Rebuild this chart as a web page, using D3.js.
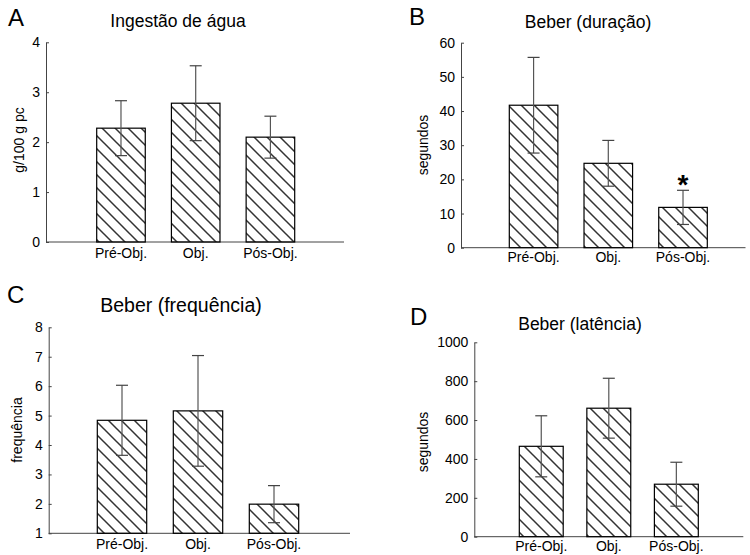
<!DOCTYPE html>
<html>
<head>
<meta charset="utf-8">
<script src="https://cdn.jsdelivr.net/npm/d3@7"></script>
<style>
  body { margin: 0; background: #fff; }
  svg { font-family: "Liberation Sans", Arial, sans-serif; }
  .tick text { fill: #000; }
</style>
</head>
<body>
<svg width="750" height="555"></svg>
<script>
const categories = ["Pré-Obj.", "Obj.", "Pós-Obj."];

const ingestaoMean = [2.28, 2.78, 2.1];
const ingestaoErr = [0.55, 0.75, 0.42];

const duracaoMean = [41.7, 24.7, 11.8];
const duracaoErr = [14.0, 6.7, 5.0];

const frequenciaMean = [4.84, 5.16, 1.99];
const frequenciaErr = [1.19, 1.88, 0.63];

const latenciaMean = [465, 661, 270];
const latenciaErr = [157, 154, 113];

const svg = d3.select("svg");

// diagonal hatch
svg.append("defs")
  .append("pattern")
  .attr("id", "hatch")
  .attr("patternUnits", "userSpaceOnUse")
  .attr("width", 13)
  .attr("height", 13)
  .append("path")
  .attr("d", "M-3.25,9.75 L3.25,16.25 M0,0 L13,13 M9.75,-3.25 L16.25,3.25")
  .attr("stroke", "#333")
  .attr("stroke-width", 1.5);

function panel(p) {
  const g = svg.append("g");

  const y = d3.scaleLinear().domain(p.domain).range([p.yBot, p.yTop]);
  const x = d3.scaleBand()
    .domain(categories)
    .range([p.barL, p.barR])
    .paddingInner(0.35)
    .paddingOuter(0);

  const axis = d3.axisLeft(y)
    .tickValues(p.ticks)
    .tickFormat(d3.format("d"))
    .tickSize(-3)
    .tickSizeOuter(0)
    .tickPadding(6);

  const ax = g.append("g")
    .attr("transform", "translate(" + p.x0 + ",0)")
    .call(axis);
  ax.selectAll("path, line").attr("stroke", "#444");
  ax.selectAll("text")
    .attr("font-size", 14)
    .attr("font-family", "Liberation Sans, Arial, sans-serif");

  // x baseline
  g.append("line")
    .attr("x1", p.x0)
    .attr("x2", p.xEnd)
    .attr("y1", p.yBot)
    .attr("y2", p.yBot)
    .attr("stroke", "#444");

  const bars = g.selectAll(".bar")
    .data(p.mean)
    .enter()
    .append("g");

  bars.append("rect")
    .attr("x", (d, i) => x(categories[i]))
    .attr("y", d => y(d))
    .attr("width", x.bandwidth())
    .attr("height", d => p.yBot - y(d))
    .attr("fill", "url(#hatch)")
    .attr("stroke", "#000")
    .attr("stroke-width", 1.2);

  const cx = (i) => x(categories[i]) + x.bandwidth() / 2;

  bars.append("line")
    .attr("x1", (d, i) => cx(i))
    .attr("x2", (d, i) => cx(i))
    .attr("y1", (d, i) => y(d + p.err[i]))
    .attr("y2", (d, i) => y(d - p.err[i]))
    .attr("stroke", "#555")
    .attr("stroke-width", 1.2);

  [1, -1].forEach(s => {
    bars.append("line")
      .attr("x1", (d, i) => cx(i) - 6)
      .attr("x2", (d, i) => cx(i) + 6)
      .attr("y1", (d, i) => y(d + s * p.err[i]))
      .attr("y2", (d, i) => y(d + s * p.err[i]))
      .attr("stroke", "#444")
      .attr("stroke-width", 1.2);
  });

  g.selectAll(".cat")
    .data(categories)
    .enter()
    .append("text")
    .attr("x", d => x(d) + x.bandwidth() / 2)
    .attr("y", p.catY)
    .attr("text-anchor", "middle")
    .attr("font-size", 14)
    .text(d => d);

  g.append("text")
    .attr("transform", "translate(" + p.labX + "," + p.labY + ") rotate(-90)")
    .attr("text-anchor", "middle")
    .attr("font-size", 14)
    .text(p.ylabel);

  g.append("text")
    .attr("x", p.titleX)
    .attr("y", p.titleY)
    .attr("text-anchor", "middle")
    .attr("font-size", p.titleSize)
    .text(p.title);

  g.append("text")
    .attr("x", p.letterX)
    .attr("y", p.letterY)
    .attr("font-size", 24)
    .text(p.letter);

  if (p.star != null) {
    const i = p.star;
    g.append("text")
      .attr("x", cx(i))
      .attr("y", y(p.mean[i] + p.err[i]) + 4)
      .attr("text-anchor", "middle")
      .attr("font-size", 28)
      .attr("font-weight", "bold")
      .text("*");
  }
}

panel({
  letter: "A", letterX: 8, letterY: 26,
  title: "Ingestão de água", titleX: 178, titleY: 27, titleSize: 17.5,
  ylabel: "g/100 g pc", labX: 24, labY: 140,
  x0: 46, xEnd: 344, yTop: 42.3, yBot: 242,
  barL: 96.7, barR: 294.7, catY: 258,
  domain: [0, 4], ticks: [0, 1, 2, 3, 4],
  mean: ingestaoMean, err: ingestaoErr
});

panel({
  letter: "B", letterX: 409, letterY: 25,
  title: "Beber (duração)", titleX: 588, titleY: 28, titleSize: 17.5,
  ylabel: "segundos", labX: 428, labY: 145,
  x0: 461, xEnd: 745.5, yTop: 42.7, yBot: 247.7,
  barL: 509.3, barR: 707.3, catY: 262,
  domain: [0, 60], ticks: [0, 10, 20, 30, 40, 50, 60],
  mean: duracaoMean, err: duracaoErr, star: 2
});

panel({
  letter: "C", letterX: 7, letterY: 303,
  title: "Beber (frequência)", titleX: 181, titleY: 312, titleSize: 19.5,
  ylabel: "frequência", labX: 22, labY: 430,
  x0: 48.7, xEnd: 350, yTop: 327.3, yBot: 533.3,
  barL: 97.3, barR: 298.7, catY: 549,
  domain: [1, 8], ticks: [1, 2, 3, 4, 5, 6, 7, 8],
  mean: frequenciaMean, err: frequenciaErr
});

panel({
  letter: "D", letterX: 410, letterY: 325,
  title: "Beber (latência)", titleX: 580, titleY: 330, titleSize: 17.5,
  ylabel: "segundos", labX: 428, labY: 442,
  x0: 474.3, xEnd: 743.3, yTop: 342.3, yBot: 536.7,
  barL: 519.3, barR: 698.3, catY: 550.5,
  domain: [0, 1000], ticks: [0, 200, 400, 600, 800, 1000],
  mean: latenciaMean, err: latenciaErr
});
</script>
</body>
</html>
